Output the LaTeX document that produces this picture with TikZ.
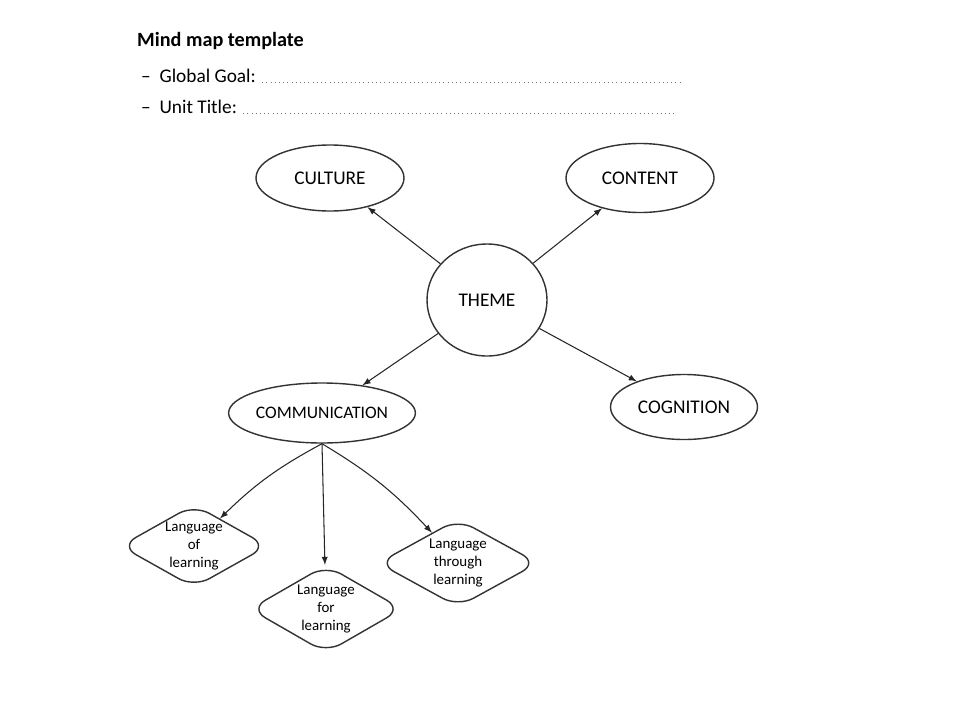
\documentclass[tikz,border=0pt]{standalone}
\usepackage{fontspec}
\setmainfont{Carlito}
\usepackage{tikz}
\usetikzlibrary{shapes.geometric,arrows,positioning}

\begin{document}
\begin{tikzpicture}[
  bubble/.style={ellipse, draw=black!80, thick, inner sep=0pt, font=\fontsize{11}{13}\selectfont},
  leaf/.style={diamond, draw=black!80, thick, inner sep=-4pt, rounded corners=0.35cm, align=center, font=\fontsize{8.5}{10}\selectfont},
  link/.style={->, >=latex, draw=black!85, semithick}
]
\useasboundingbox (0cm,0cm) rectangle (19.2cm,-14.4cm);

% heading
\node (title) [anchor=base west, font=\fontsize{11.5}{13}\selectfont\bfseries] at (2.62cm,-0.92cm) {Mind map template};
\node (goal) [anchor=base west, font=\fontsize{11}{13}\selectfont] at (2.7cm,-1.64cm) {--\ \ Global Goal:};
\node (unit) [anchor=base west, font=\fontsize{11}{13}\selectfont] at (2.7cm,-2.26cm) {--\ \ Unit Title:};
\coordinate (goalend) at (13.6cm,-1.64cm);
\coordinate (unitend) at (13.5cm,-2.26cm);
\draw [dotted, black!55] (goal.base east) -- (goalend);
\draw [dotted, black!55] (unit.base east) -- (unitend);

% centre and the four Cs
\node (theme) [bubble, minimum width=2.4cm, minimum height=2.24cm] at (9.74cm,-6.0cm) {THEME};
\node (culture) [bubble, minimum width=2.96cm, minimum height=1.32cm] at (6.6cm,-3.56cm) {CULTURE};
\node (content) [bubble, minimum width=2.96cm, minimum height=1.38cm] at (12.8cm,-3.56cm) {CONTENT};
\node (comm) [bubble, minimum width=3.32cm, minimum height=1.2cm, font=\fontsize{10}{12}\selectfont] at (6.44cm,-8.26cm) {COMMUNICATION};
\node (cogn) [bubble, minimum width=2.94cm, minimum height=1.3cm] at (13.68cm,-8.14cm) {COGNITION};

\draw [link] (theme) -- (culture);
\draw [link] (theme) -- (content);
\draw [link] (theme) -- (comm);
\draw [link] (theme) -- (cogn);

% language triptych
\node (langof) [leaf, minimum width=2.95cm, minimum height=1.66cm] at (3.88cm,-10.92cm) {Language\\of\\learning};
\node (langfor) [leaf, minimum width=3.05cm, minimum height=1.76cm] at (6.52cm,-12.18cm) {Language\\for\\learning};
\node (langthr) [leaf, minimum width=3.2cm, minimum height=1.76cm] at (9.16cm,-11.26cm) {Language\\through\\learning};

\draw [link] (comm.south) to [bend right=8] (langof);
\draw [link] (comm.south) -- (langfor);
\draw [link] (comm.south) to [bend left=8] (langthr);
\end{tikzpicture}
\end{document}
